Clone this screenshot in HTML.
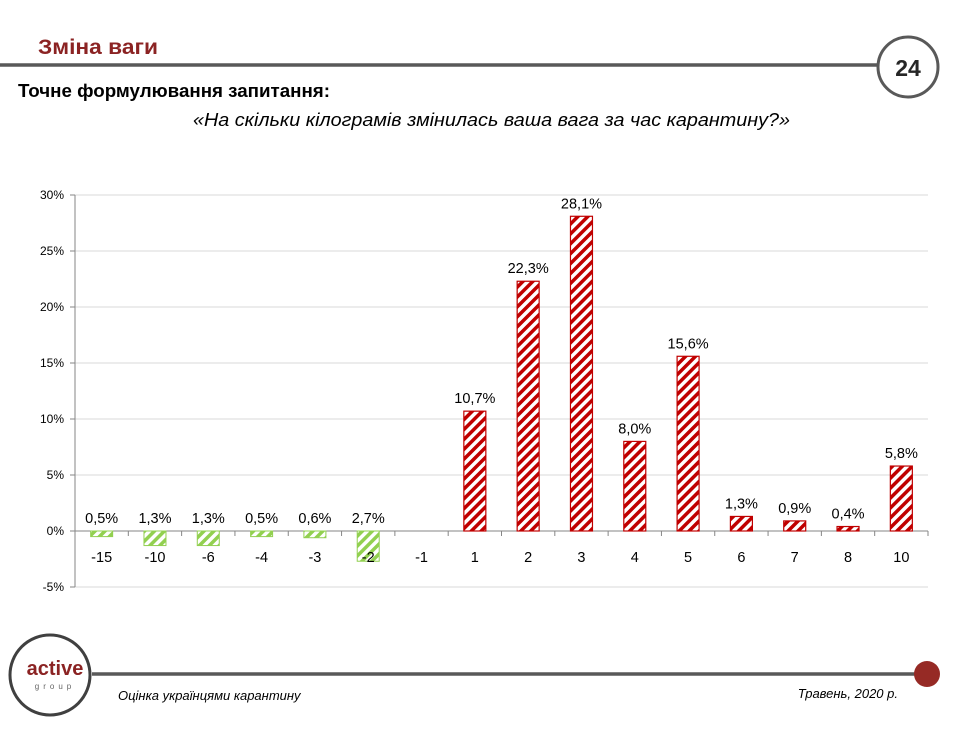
<!DOCTYPE html>
<html><head><meta charset="utf-8"><style>
body{margin:0;background:#fff;}
svg{display:block;font-family:"Liberation Sans","DejaVu Sans",sans-serif;}
</style></head><body>
<svg width="975" height="730" viewBox="0 0 975 730">
<defs>
<pattern id="r" patternUnits="userSpaceOnUse" width="7" height="7" patternTransform="rotate(45)">
<rect width="7" height="7" fill="#fff"/><rect width="3.5" height="7" fill="#c00000"/></pattern>
<pattern id="g" patternUnits="userSpaceOnUse" width="7" height="7" patternTransform="rotate(45)">
<rect width="7" height="7" fill="#fff"/><rect width="3.5" height="7" fill="#92d050"/></pattern>
</defs>
<text x="38" y="54" font-size="21" font-weight="bold" fill="#8b2323" textLength="120" lengthAdjust="spacingAndGlyphs">Зміна ваги</text>
<line x1="0" y1="65" x2="878" y2="65" stroke="#595959" stroke-width="3.5"/>
<circle cx="908" cy="67" r="30" fill="#fff" stroke="#595959" stroke-width="3"/>
<text x="908" y="76" font-size="23" font-weight="bold" text-anchor="middle" fill="#262626">24</text>
<text x="18" y="97" font-size="18" font-weight="bold" fill="#000" textLength="312" lengthAdjust="spacingAndGlyphs">Точне формулювання запитання:</text>
<text x="193" y="126" font-size="18" font-style="italic" fill="#000" textLength="597" lengthAdjust="spacingAndGlyphs">«На скільки кілограмів змінилась ваша вага за час карантину?»</text>
<g stroke="#d9d9d9" stroke-width="1">
<line x1="75" y1="195" x2="928" y2="195"/><line x1="75" y1="251" x2="928" y2="251"/>
<line x1="75" y1="307" x2="928" y2="307"/><line x1="75" y1="363" x2="928" y2="363"/>
<line x1="75" y1="419" x2="928" y2="419"/><line x1="75" y1="475" x2="928" y2="475"/>
<line x1="75" y1="587" x2="928" y2="587"/>
</g>
<line x1="75" y1="195" x2="75" y2="587" stroke="#868686"/>
<line x1="70" y1="531" x2="928" y2="531" stroke="#868686"/>
<g stroke="#868686">
<line x1="70" y1="195" x2="75" y2="195"/><line x1="70" y1="251" x2="75" y2="251"/><line x1="70" y1="307" x2="75" y2="307"/><line x1="70" y1="363" x2="75" y2="363"/><line x1="70" y1="419" x2="75" y2="419"/><line x1="70" y1="475" x2="75" y2="475"/><line x1="70" y1="587" x2="75" y2="587"/>
</g>
<g font-size="12" text-anchor="end" fill="#000">
<text x="64" y="199">30%</text><text x="64" y="255">25%</text><text x="64" y="311">20%</text><text x="64" y="367">15%</text><text x="64" y="423">10%</text><text x="64" y="479">5%</text><text x="64" y="535">0%</text><text x="64" y="591">-5%</text>
</g>
<g id="ticks" stroke="#868686"></g>
<g id="bars"></g>
<g id="labels" font-size="14.5" text-anchor="middle" fill="#000"></g>
<circle cx="50" cy="675" r="40" fill="#fff" stroke="#404040" stroke-width="3"/>
<text x="55" y="675" font-size="20" font-weight="bold" text-anchor="middle" fill="#8b2323">active</text>
<text x="55" y="689" font-size="8" text-anchor="middle" fill="#666" letter-spacing="4">group</text>
<line x1="92" y1="674" x2="915" y2="674" stroke="#595959" stroke-width="3.5"/>
<circle cx="927" cy="674" r="13" fill="#962a25"/>
<text x="118" y="700" font-size="13" font-style="italic" fill="#000">Оцінка українцями карантину</text>
<text x="898" y="698" font-size="13" font-style="italic" text-anchor="end" fill="#000">Травень, 2020 р.</text>
<script>
var cats=["-15","-10","-6","-4","-3","-2","-1","1","2","3","4","5","6","7","8","10"];
var vals=[0.5,1.3,1.3,0.5,0.6,2.7,null,10.7,22.3,28.1,8.0,15.6,1.3,0.9,0.4,5.8];
var ns="http://www.w3.org/2000/svg",w=853/16,k=11.2,y0=531;
function el(t,a,p,txt){var e=document.createElementNS(ns,t);for(var i in a)e.setAttribute(i,a[i]);if(txt)e.textContent=txt;document.getElementById(p).appendChild(e);}
for(var i=0;i<=16;i++){var x=75+w*i;el("line",{x1:x,y1:531,x2:x,y2:536},"ticks");}
for(var i=0;i<16;i++){var c=75+w*(i+0.5),v=vals[i];
 if(v!==null){var h=v*k,bw=22;
  if(i<6){el("rect",{x:c-bw/2,y:y0,width:bw,height:h,fill:"url(#g)",stroke:"#92d050","stroke-width":1},"bars");
   el("text",{x:c,y:523},"labels",v.toFixed(1).replace(".",",")+"%");}
  else{el("rect",{x:c-bw/2,y:y0-h,width:bw,height:h,fill:"url(#r)",stroke:"#c00000","stroke-width":1.2},"bars");
   el("text",{x:c,y:y0-h-8},"labels",v.toFixed(1).replace(".",",")+"%");}}
 el("text",{x:c,y:562},"labels",cats[i]);}
</script>
</svg>
</body></html>
